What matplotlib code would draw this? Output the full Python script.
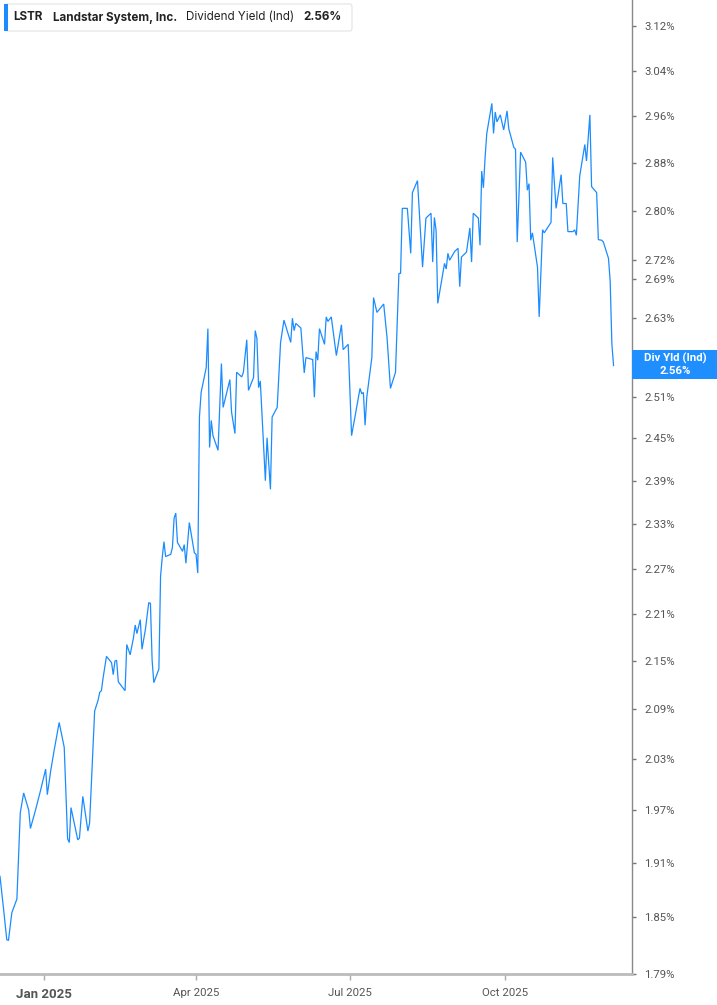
import matplotlib
matplotlib.use("Agg")
import matplotlib.pyplot as plt
import matplotlib.dates as mdates
from matplotlib.ticker import FixedLocator, FixedFormatter, NullLocator
from matplotlib.patches import Rectangle, FancyBboxPatch
from datetime import datetime
import pandas as pd

# ---------------- data ----------------
dates = [
    "2024-12-06", "2024-12-08", "2024-12-10", "2024-12-11", "2024-12-13", "2024-12-16",
    "2024-12-18", "2024-12-20", "2024-12-23", "2024-12-24", "2024-12-27", "2024-12-30",
    "2025-01-02", "2025-01-03", "2025-01-05", "2025-01-07", "2025-01-10", "2025-01-13",
    "2025-01-15", "2025-01-16", "2025-01-17", "2025-01-21", "2025-01-22", "2025-01-24",
    "2025-01-27", "2025-01-28", "2025-01-31",
    "2025-02-02", "2025-02-03", "2025-02-04", "2025-02-05", "2025-02-07", "2025-02-10",
    "2025-02-11", "2025-02-12", "2025-02-13", "2025-02-14", "2025-02-18", "2025-02-19",
    "2025-02-21", "2025-02-23", "2025-02-24", "2025-02-25", "2025-02-27", "2025-02-28",
    "2025-03-02", "2025-03-04", "2025-03-05", "2025-03-06", "2025-03-07", "2025-03-10",
    "2025-03-11", "2025-03-12", "2025-03-13", "2025-03-14", "2025-03-17", "2025-03-18",
    "2025-03-19", "2025-03-20", "2025-03-21", "2025-03-24", "2025-03-25", "2025-03-26",
    "2025-03-28", "2025-03-31",
    "2025-04-01", "2025-04-02", "2025-04-03", "2025-04-04", "2025-04-07", "2025-04-08",
    "2025-04-09", "2025-04-10", "2025-04-11", "2025-04-14", "2025-04-16", "2025-04-17",
    "2025-04-21", "2025-04-22", "2025-04-24", "2025-04-25", "2025-04-28", "2025-04-29",
    "2025-05-01", "2025-05-02", "2025-05-05", "2025-05-06", "2025-05-07", "2025-05-08",
    "2025-05-09", "2025-05-12", "2025-05-13", "2025-05-15", "2025-05-16", "2025-05-19",
    "2025-05-21", "2025-05-23", "2025-05-27", "2025-05-28", "2025-05-29", "2025-05-30",
    "2025-06-02", "2025-06-04", "2025-06-05", "2025-06-09", "2025-06-10", "2025-06-11",
    "2025-06-12", "2025-06-13", "2025-06-16", "2025-06-17", "2025-06-18", "2025-06-20",
    "2025-06-23", "2025-06-26", "2025-06-27", "2025-06-30",
    "2025-07-02", "2025-07-04", "2025-07-07", "2025-07-08", "2025-07-09", "2025-07-10",
    "2025-07-11", "2025-07-14", "2025-07-15", "2025-07-17", "2025-07-21", "2025-07-23",
    "2025-07-25", "2025-07-28", "2025-07-30", "2025-07-31",
    "2025-08-01", "2025-08-04", "2025-08-06", "2025-08-07", "2025-08-10", "2025-08-13",
    "2025-08-15", "2025-08-18", "2025-08-19", "2025-08-20", "2025-08-21", "2025-08-22",
    "2025-08-25", "2025-08-26", "2025-08-27", "2025-08-28", "2025-08-29",
    "2025-09-01", "2025-09-03", "2025-09-04", "2025-09-05", "2025-09-08", "2025-09-10",
    "2025-09-11", "2025-09-12", "2025-09-15", "2025-09-16", "2025-09-17", "2025-09-18",
    "2025-09-19", "2025-09-20", "2025-09-23", "2025-09-24", "2025-09-25", "2025-09-26",
    "2025-09-28", "2025-09-30",
    "2025-10-02", "2025-10-03", "2025-10-06", "2025-10-07", "2025-10-08", "2025-10-10",
    "2025-10-13", "2025-10-14", "2025-10-15", "2025-10-16", "2025-10-17", "2025-10-20",
    "2025-10-21", "2025-10-23", "2025-10-24", "2025-10-28", "2025-10-29", "2025-10-31",
    "2025-11-03", "2025-11-04", "2025-11-06", "2025-11-07", "2025-11-10", "2025-11-11",
    "2025-11-12", "2025-11-14", "2025-11-17", "2025-11-18", "2025-11-20", "2025-11-21",
    "2025-11-24", "2025-11-25", "2025-11-27", "2025-11-28",
    "2025-12-01", "2025-12-02", "2025-12-03", "2025-12-04",
]

yields = [
    1.895, 1.861, 1.826, 1.825, 1.855, 1.870,
    1.967, 1.990, 1.970, 1.949, 1.970, 1.993,
    2.018, 1.988, 2.016, 2.040, 2.074, 2.044,
    1.937, 1.933, 1.973, 1.936, 1.938, 1.986,
    1.946, 1.955, 2.088,
    2.101, 2.111, 2.113, 2.129, 2.156, 2.148,
    2.133, 2.150, 2.151, 2.124, 2.113, 2.171,
    2.158, 2.180, 2.196, 2.185, 2.203, 2.165,
    2.190, 2.225, 2.224, 2.151, 2.123, 2.140,
    2.260, 2.285, 2.306, 2.286, 2.289, 2.298,
    2.338, 2.345, 2.305, 2.293, 2.302, 2.277,
    2.332, 2.291,
    2.289, 2.264, 2.481, 2.517, 2.554, 2.613,
    2.437, 2.476, 2.454, 2.433, 2.560, 2.495,
    2.536, 2.488, 2.457, 2.547, 2.540, 2.547,
    2.596, 2.520, 2.539, 2.610, 2.598, 2.524,
    2.534, 2.390, 2.451, 2.378, 2.481, 2.495,
    2.592, 2.626, 2.592, 2.629, 2.610, 2.621,
    2.614, 2.546, 2.569, 2.566, 2.510, 2.578,
    2.565, 2.613, 2.589, 2.631, 2.624, 2.631,
    2.572, 2.619, 2.581, 2.589,
    2.454, 2.481, 2.523, 2.515, 2.517, 2.469,
    2.510, 2.569, 2.661, 2.638, 2.651, 2.599,
    2.523, 2.547, 2.699, 2.699,
    2.804, 2.804, 2.731, 2.830, 2.850, 2.709,
    2.788, 2.796, 2.717, 2.789, 2.768, 2.652,
    2.699, 2.715, 2.706, 2.731, 2.720,
    2.734, 2.739, 2.678, 2.725, 2.733, 2.772,
    2.717, 2.796, 2.788, 2.744, 2.866, 2.838,
    2.889, 2.930, 2.982, 2.930, 2.967, 2.950,
    2.962, 2.936,
    2.969, 2.938, 2.906, 2.903, 2.749, 2.898,
    2.881, 2.834, 2.845, 2.752, 2.764, 2.709,
    2.631, 2.769, 2.764, 2.781, 2.889, 2.804,
    2.860, 2.812, 2.812, 2.766, 2.766, 2.769,
    2.760, 2.858, 2.911, 2.883, 2.962, 2.840,
    2.830, 2.753, 2.752, 2.749,
    2.723, 2.687, 2.590, 2.557,
]

y_ticks = [3.12, 3.04, 2.96, 2.88, 2.80, 2.72, 2.69, 2.63, 2.51, 2.45, 2.39,
           2.33, 2.27, 2.21, 2.15, 2.09, 2.03, 1.97, 1.91, 1.85, 1.79]
x_tick_dates = ["2025-01-01", "2025-04-01", "2025-07-01", "2025-10-01"]
x_tick_labels = ["Jan 2025", "Apr 2025", "Jul 2025", "Oct 2025"]

ticker_sym = "LSTR"
company = "Landstar System, Inc."
metric = "Dividend Yield (Ind)"
last_label = "Div Yld (Ind)"
last_value = yields[-1]

# ---------------- figure ----------------
W, H = 717, 1005
fig = plt.figure(figsize=(W / 100, H / 100), dpi=100)
fig.patch.set_facecolor("white")

line_color = "#1a8cff"
ax_left, ax_right, ax_bottom, ax_top = 0, 632, 974, 0
ax = fig.add_axes([ax_left / W, (H - ax_bottom) / H,
                   (ax_right - ax_left) / W, (ax_bottom - ax_top) / H])

x = pd.to_datetime(dates)
ax.plot(x, yields, color=line_color, lw=0.9, solid_joinstyle="miter")

ax.set_yscale("log")
ax.set_ylim(1.7895, 3.1685)
ax.set_xlim(datetime(2024, 12, 6), datetime(2025, 12, 14, 22))

# y axis on the right
ax.yaxis.tick_right()
ax.yaxis.set_major_locator(FixedLocator(y_ticks))
ax.yaxis.set_major_formatter(FixedFormatter([f"{v:.2f}%" for v in y_ticks]))
ax.yaxis.set_minor_locator(NullLocator())
ax.tick_params(axis="y", which="major", direction="out", length=3, width=1,
               color="#777777", labelcolor="#555555", labelsize=8.2, pad=6)
for lab in ax.get_yticklabels():
    lab.set_fontfamily("Roboto")

# x axis
xt = pd.to_datetime(x_tick_dates)
ax.set_xticks(xt)
ax.set_xticklabels(x_tick_labels)
ax.xaxis.set_minor_locator(NullLocator())
ax.tick_params(axis="x", which="major", direction="out", length=4, width=1,
               color="#aaaaaa", labelcolor="#555555", labelsize=8.2, pad=6)
for i, lab in enumerate(ax.get_xticklabels()):
    lab.set_fontfamily("Roboto")
    if i == 0:
        lab.set_fontweight("bold")
        lab.set_fontsize(9.5)

for s in ["top", "left"]:
    ax.spines[s].set_visible(False)
ax.spines["right"].set_color("#888888")
ax.spines["right"].set_linewidth(1.0)
ax.spines["bottom"].set_color("#bbbbbb")
ax.spines["bottom"].set_linewidth(2.0)
ax.grid(False)
ax.set_facecolor("white")

# ---------------- header box ----------------
def fx(px):
    return px / W

def fy(py):
    return 1 - py / H

hdr = FancyBboxPatch((fx(5), fy(31)), fx(347), 27 / H,
                     boxstyle="round,pad=0,rounding_size=0.003",
                     transform=fig.transFigure, facecolor="white",
                     edgecolor="#e3e3e3", linewidth=0.8, zorder=5)
fig.patches.append(hdr)
fig.patches.append(Rectangle((fx(4), fy(31)), fx(3.5), 27 / H,
                             transform=fig.transFigure, facecolor=line_color,
                             edgecolor="none", zorder=6))
ty = fy(17.5)
hfs = 8.4
fig.text(fx(13), ty, ticker_sym, fontsize=hfs, fontweight="bold", family="Inter",
         color="#222222", va="center", ha="left", zorder=7)
fig.text(fx(53), ty, company, fontsize=hfs, fontweight="bold", family="Inter",
         color="#222222", va="center", ha="left", zorder=7)
fig.text(fx(186), ty, metric, fontsize=hfs, family="Inter",
         color="#222222", va="center", ha="left", zorder=7)
fig.text(fx(303), ty, f"{last_value:.2f}%", fontsize=hfs, fontweight="bold",
         family="Inter", color="#222222", va="center", ha="left", zorder=7)

# ---------------- last value tag on the right axis ----------------
tag_top, tag_bot = 350, 379
fig.patches.append(Rectangle((fx(632), fy(tag_bot)), fx(717 - 632), (tag_bot - tag_top) / H,
                             transform=fig.transFigure, facecolor="#1f8fff",
                             edgecolor="none", zorder=6))
fig.text(fx(675), fy(358.5), last_label, fontsize=8.2, fontweight="bold",
         family="Roboto", color="white", va="center", ha="center", zorder=7)
fig.text(fx(675), fy(371), f"{last_value:.2f}%", fontsize=8.2, fontweight="bold",
         family="Roboto", color="white", va="center", ha="center", zorder=7)

fig.savefig("out.png", dpi=100, facecolor="white")
